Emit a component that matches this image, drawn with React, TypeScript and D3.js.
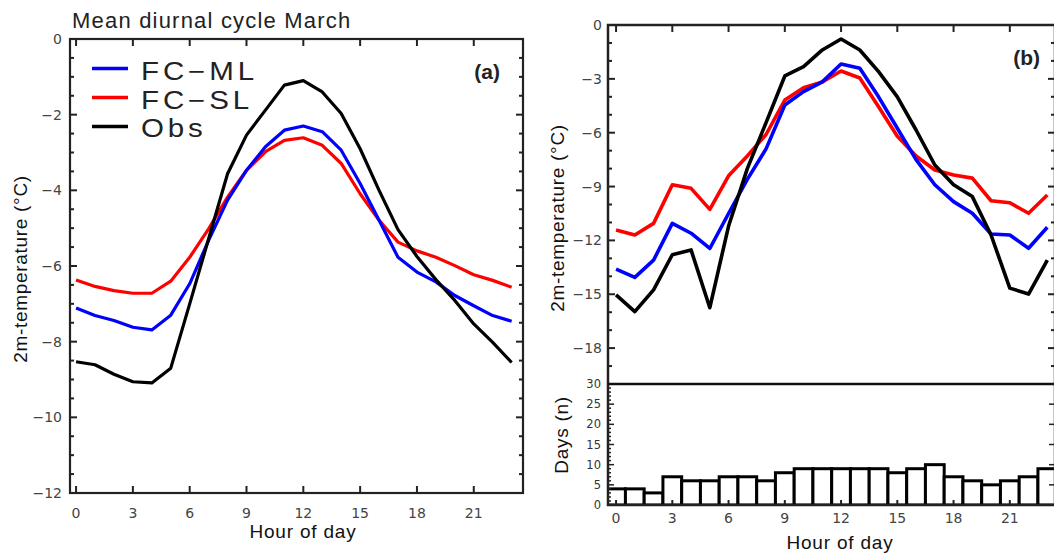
import React from "react";
import * as d3 from "d3";

const hours = [0, 1, 2, 3, 4, 5, 6, 7, 8, 9, 10, 11, 12, 13, 14, 15, 16, 17, 18, 19, 20, 21, 22, 23];
const hourTicks = [0, 3, 6, 9, 12, 15, 18, 21];

// Panel (a)
const aML = [-7.11, -7.31, -7.44, -7.62, -7.69, -7.30, -6.47, -5.32, -4.26, -3.47, -2.85, -2.41, -2.30, -2.45, -2.94, -3.82, -4.79, -5.77, -6.16, -6.42, -6.78, -7.05, -7.31, -7.46];
const aSL = [-6.37, -6.54, -6.65, -6.72, -6.72, -6.40, -5.77, -5.02, -4.18, -3.47, -2.98, -2.68, -2.61, -2.81, -3.29, -4.09, -4.79, -5.37, -5.60, -5.77, -5.99, -6.23, -6.38, -6.56];
const aObs = [-8.53, -8.61, -8.86, -9.06, -9.09, -8.70, -7.00, -5.28, -3.56, -2.54, -1.88, -1.22, -1.10, -1.40, -1.97, -2.90, -4.00, -5.04, -5.75, -6.36, -6.91, -7.53, -8.02, -8.55];
const aYTicks = [0, -2, -4, -6, -8, -10, -12];

// Panel (b)
const bML = [-13.6, -14.06, -13.1, -11.05, -11.6, -12.45, -10.5, -8.6, -6.9, -4.46, -3.71, -3.17, -2.17, -2.41, -4.0, -5.75, -7.5, -8.9, -9.84, -10.49, -11.64, -11.7, -12.44, -11.27];
const bSL = [-11.42, -11.7, -11.05, -8.9, -9.1, -10.27, -8.4, -7.3, -6.1, -4.18, -3.5, -3.17, -2.56, -2.95, -4.56, -6.2, -7.3, -8.08, -8.36, -8.53, -9.79, -9.9, -10.49, -9.47];
const bObs = [-15.04, -15.97, -14.76, -12.8, -12.53, -15.75, -11.2, -8.0, -5.44, -2.84, -2.32, -1.39, -0.78, -1.39, -2.6, -4.0, -5.85, -7.8, -8.9, -9.56, -11.7, -14.66, -14.99, -13.1];
const bYTicks = [0, -3, -6, -9, -12, -15, -18];
const days = [4, 4, 3, 7, 6, 6, 7, 7, 6, 8, 9, 9, 9, 9, 9, 8, 9, 10, 7, 6, 5, 6, 7, 9];
const dayTicks = [0, 5, 10, 15, 20, 25, 30];

const seriesNames = ["FC\u2212ML", "FC\u2212SL", "Obs"];
const seriesColors = ["#0000ff", "#ff0000", "#000000"];

const fmt = (v: number) => (v < 0 ? "\u2212" + Math.abs(v) : String(v));
const tickFont = "DejaVu Sans";
const labFont = "Liberation Sans, Arial, sans-serif";

export default function App() {
  // Panel (a) scales
  const xA = d3.scaleLinear().domain([-0.32, 23.6]).range([70, 523]);
  const yA = d3.scaleLinear().domain([-12, 0]).range([493, 39]);
  // Panel (b) scales
  const xB = d3.scaleLinear().domain([-0.43, 23.41]).range([608, 1055]);
  const yB = d3.scaleLinear().domain([-20, 0]).range([384, 25]);
  const yD = d3.scaleLinear().domain([0, 30]).range([505, 384]);

  const lineA = (vals: number[]) =>
    d3.line<number>().x((_, i) => xA(hours[i])).y((d) => yA(d))(vals) || "";
  const lineB = (vals: number[]) =>
    d3.line<number>().x((_, i) => xB(hours[i])).y((d) => yB(d))(vals) || "";

  const aMinor = d3.range(-12, 0.001, 0.5);
  const bMinor = d3.range(-20, 0.001, 1);
  const dMinor = d3.range(0, 30.001, 1);

  const [aL, aR] = xA.range();
  const [aB, aT] = yA.range();
  const [bL, bR] = xB.range();

  const seriesA = [aML, aSL, aObs];
  const seriesB = [bML, bSL, bObs];
  const drawOrder = [1, 0, 2];

  return (
    <svg width={1054} height={556} style={{ position: "absolute", left: 0, top: 0, background: "#fff" }}>
      <defs>
        <clipPath id="clipD">
          <rect x={bL} y={yD(30)} width={bR - bL} height={yD(0) - yD(30)} />
        </clipPath>
      </defs>
      <rect x={0} y={0} width={1054} height={556} fill="#fff" />

      {/* ================= Panel (a) ================= */}
      <text x={72} y={28} fontFamily={labFont} fontSize={22} letterSpacing={1.2} fill="#222">
        Mean diurnal cycle March
      </text>

      {/* lines */}
      {drawOrder.map((k) => (
        <path key={"a" + k} d={lineA(seriesA[k])} fill="none" stroke={seriesColors[k]} strokeWidth={3.2} strokeLinejoin="round" />
      ))}

      {/* y ticks */}
      {aMinor.map((v) => {
        const major = Math.abs(v % 2) < 1e-6;
        const len = major ? 7 : 4;
        return (
          <g key={"ay" + v}>
            <line x1={aL} x2={aL + len} y1={yA(v)} y2={yA(v)} stroke="#222" strokeWidth={2} />
            <line x1={aR} x2={aR - len} y1={yA(v)} y2={yA(v)} stroke="#222" strokeWidth={2} />
          </g>
        );
      })}
      {aYTicks.map((v) => (
        <text key={"ayl" + v} x={62} y={yA(v) + 5} textAnchor="end" fontFamily={tickFont} fontSize={14} fill="#444">
          {fmt(v)}
        </text>
      ))}
      {/* x ticks */}
      {hourTicks.map((h) => (
        <g key={"ax" + h}>
          <line x1={xA(h)} x2={xA(h)} y1={aB} y2={aB - 7} stroke="#222" strokeWidth={2} />
          <line x1={xA(h)} x2={xA(h)} y1={aT} y2={aT + 7} stroke="#222" strokeWidth={2} />
          <text x={xA(h)} y={518} textAnchor="middle" fontFamily={tickFont} fontSize={14} fill="#444">
            {h}
          </text>
        </g>
      ))}
      <rect x={aL} y={aT} width={aR - aL} height={aB - aT} fill="none" stroke="#222" strokeWidth={2.2} />

      <text x={303} y={538} textAnchor="middle" fontFamily={labFont} fontSize={19} letterSpacing={0.8} fill="#111">
        Hour of day
      </text>
      <text transform={`translate(27,${269}) rotate(-90)`} textAnchor="middle" fontFamily={labFont} fontSize={19} letterSpacing={0.7} fill="#111">
        2m-temperature (°C)
      </text>

      {/* legend */}
      {seriesNames.map((name, i) => (
        <g key={"leg" + i}>
          <line x1={92} x2={128} y1={68.5 + i * 29} y2={68.5 + i * 29} stroke={seriesColors[i]} strokeWidth={3.5} />
          <text
            transform={`translate(141,${80 + i * 28.7}) scale(1.18,1)`}
            fontFamily={labFont}
            fontSize={25}
            letterSpacing={3.3}
            fill="#222"
          >
            {name}
          </text>
        </g>
      ))}
      <text x={500} y={79} textAnchor="end" fontFamily={labFont} fontSize={21} fontWeight="bold" fill="#222">
        (a)
      </text>

      {/* ================= Panel (b) ================= */}
      {drawOrder.map((k) => (
        <path key={"b" + k} d={lineB(seriesB[k])} fill="none" stroke={seriesColors[k]} strokeWidth={3.6} strokeLinejoin="round" />
      ))}

      {bMinor.map((v) => {
        const major = Math.abs(v % 3) < 1e-6;
        const len = major ? 7 : 4;
        if (v === -20) return null;
        return (
          <g key={"by" + v}>
            <line x1={bL} x2={bL + len} y1={yB(v)} y2={yB(v)} stroke="#222" strokeWidth={2} />
            <line x1={bR} x2={bR - len} y1={yB(v)} y2={yB(v)} stroke="#222" strokeWidth={2} />
          </g>
        );
      })}
      {bYTicks.map((v) => (
        <text key={"byl" + v} x={602} y={yB(v) + 5} textAnchor="end" fontFamily={tickFont} fontSize={14} fill="#444">
          {fmt(v)}
        </text>
      ))}
      {hourTicks.map((h) => (
        <line key={"bxt" + h} x1={xB(h)} x2={xB(h)} y1={yB(0)} y2={yB(0) + 7} stroke="#222" strokeWidth={2} />
      ))}

      {/* bars */}
      <g clipPath="url(#clipD)">
        {days.map((d, i) => (
          <rect
            key={"bar" + i}
            x={xB(hours[i] - 0.5)}
            y={yD(d)}
            width={xB(hours[i] + 0.5) - xB(hours[i] - 0.5)}
            height={yD(0) - yD(d)}
            fill="#fff"
            stroke="#000"
            strokeWidth={3}
          />
        ))}
      </g>
      {dMinor.map((v) => {
        const major = v % 5 === 0;
        const len = major ? 6 : 3;
        return (
          <g key={"dy" + v}>
            <line x1={bL} x2={bL + len} y1={yD(v)} y2={yD(v)} stroke="#222" strokeWidth={1.5} />
            {major && <line x1={bR} x2={bR - 6} y1={yD(v)} y2={yD(v)} stroke="#222" strokeWidth={1.5} />}
          </g>
        );
      })}
      {dayTicks.map((v) => (
        <text key={"dyl" + v} x={601} y={yD(v) + 4} textAnchor="end" fontFamily={tickFont} fontSize={11.5} fill="#333">
          {v}
        </text>
      ))}
      {hourTicks.map((h) => (
        <g key={"bx" + h}>
          <line x1={xB(h)} x2={xB(h)} y1={yD(0)} y2={yD(0) - 5} stroke="#222" strokeWidth={2} />
          <text x={xB(h)} y={523} textAnchor="middle" fontFamily={tickFont} fontSize={14} fill="#444">
            {h}
          </text>
        </g>
      ))}

      {/* frame */}
      <rect x={bL} y={yB(0)} width={bR - bL} height={yD(0) - yB(0)} fill="none" stroke="#222" strokeWidth={2.5} />
      <line x1={bL} x2={bR} y1={yB(-20)} y2={yB(-20)} stroke="#111" strokeWidth={2.5} />

      <text x={1040} y={65} textAnchor="end" fontFamily={labFont} fontSize={21} fontWeight="bold" fill="#222">
        (b)
      </text>
      <text x={840} y={549} textAnchor="middle" fontFamily={labFont} fontSize={19} letterSpacing={0.8} fill="#111">
        Hour of day
      </text>
      <text transform={`translate(564,${218}) rotate(-90)`} textAnchor="middle" fontFamily={labFont} fontSize={19} letterSpacing={0.7} fill="#111">
        2m-temperature (°C)
      </text>
      <text transform={`translate(568,${435}) rotate(-90)`} textAnchor="middle" fontFamily={labFont} fontSize={19} letterSpacing={0.7} fill="#111">
        Days (n)
      </text>
    </svg>
  );
}
